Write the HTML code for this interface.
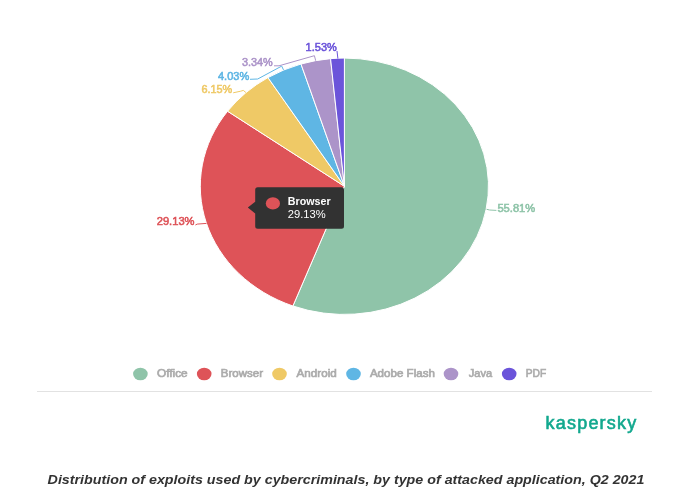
<!DOCTYPE html>
<html><head><meta charset="utf-8"><style>
html,body{margin:0;padding:0;background:#fff;width:674px;height:493px;overflow:hidden}
svg{display:block;will-change:transform;filter:blur(0.3px)}
text{font-family:"Liberation Sans",Arial,sans-serif}
</style></head><body>
<svg width="674" height="493" viewBox="0 0 674 493">
<g>
<path d="M344.4,186.25 L344.40,58.05 A144.1,128.2 0 1 1 292.91,305.99 Z" fill="#8fc4a9" stroke="#fff" stroke-width="1" stroke-linejoin="round"/>
<path d="M344.4,186.25 L292.91,305.99 A144.1,128.2 0 0 1 227.55,111.23 Z" fill="#de5358" stroke="#fff" stroke-width="1" stroke-linejoin="round"/>
<path d="M344.4,186.25 L227.55,111.23 A144.1,128.2 0 0 1 267.95,77.58 Z" fill="#efc966" stroke="#fff" stroke-width="1" stroke-linejoin="round"/>
<path d="M344.4,186.25 L267.95,77.58 A144.1,128.2 0 0 1 300.99,64.01 Z" fill="#5fb6e4" stroke="#fff" stroke-width="1" stroke-linejoin="round"/>
<path d="M344.4,186.25 L300.99,64.01 A144.1,128.2 0 0 1 330.57,58.64 Z" fill="#ac94c9" stroke="#fff" stroke-width="1" stroke-linejoin="round"/>
<path d="M344.4,186.25 L330.57,58.64 A144.1,128.2 0 0 1 344.40,58.05 Z" fill="#6b54da" stroke="#fff" stroke-width="1" stroke-linejoin="round"/>
</g>
<!-- connectors -->
<g fill="none" stroke-width="1">
<path d="M486.6,209.3 L489.6,210 L496.4,210.4" stroke="#8fc4a9"/>
<path d="M195.4,225 L197.2,224.1 L206.5,223.4" stroke="#de5358"/>
<path d="M233.2,92.8 L240.7,91.2 L243.3,90.4 L245.9,92.5" stroke="#efc966"/>
<path d="M250,79.3 L257.7,79 L281.7,66.1 L283.5,69.9" stroke="#5fb6e4"/>
<path d="M274,65.8 L279,65.8 L314.4,55.7 L315.7,60.7" stroke="#ac94c9"/>
<path d="M337,51 L337.9,58.5" stroke="#6b54da"/>
</g>
<!-- data labels -->
<g font-size="10.7" stroke-width="0.55">
<text x="497.4" y="211.6" fill="#8fc4a9" stroke="#8fc4a9" textLength="37.8" lengthAdjust="spacingAndGlyphs">55.81%</text>
<text x="156.7" y="224.8" fill="#de5358" stroke="#de5358" textLength="37.8" lengthAdjust="spacingAndGlyphs">29.13%</text>
<text x="201.4" y="93.2" fill="#efc966" stroke="#efc966" textLength="30.8" lengthAdjust="spacingAndGlyphs">6.15%</text>
<text x="218" y="79.5" fill="#5fb6e4" stroke="#5fb6e4" textLength="31.2" lengthAdjust="spacingAndGlyphs">4.03%</text>
<text x="241.9" y="65.8" fill="#ac94c9" stroke="#ac94c9" textLength="30.9" lengthAdjust="spacingAndGlyphs">3.34%</text>
<text x="305.6" y="50.7" fill="#6b54da" stroke="#6b54da" textLength="31.2" lengthAdjust="spacingAndGlyphs">1.53%</text>
</g>
<!-- tooltip -->
<g>
<path d="M257.7,187.3 H341.5 Q344,187.3 344,189.8 V226.2 Q344,228.7 341.5,228.7 H257.7 Q255.2,228.7 255.2,226.2 V213.5 L247.8,207.6 L255.2,201.7 V189.8 Q255.2,187.3 257.7,187.3 Z" fill="#323232"/>
<ellipse cx="272.9" cy="203.4" rx="7.1" ry="6.2" fill="#de5358"/>
<text x="287.8" y="205" fill="#fff" font-size="11" font-weight="bold" textLength="42.8" lengthAdjust="spacingAndGlyphs">Browser</text>
<text x="287.8" y="217.5" fill="#fff" font-size="11" textLength="37.9" lengthAdjust="spacingAndGlyphs">29.13%</text>
</g>
<!-- legend -->
<g font-size="10.1" fill="#ababab" stroke="#ababab" stroke-width="0.6">
<ellipse cx="140.4" cy="374" rx="7.3" ry="6.3" stroke="none" fill="#8fc4a9"/>
<text x="157" y="377.2" textLength="30.7" lengthAdjust="spacingAndGlyphs">Office</text>
<ellipse cx="204.2" cy="374" rx="7.3" ry="6.3" stroke="none" fill="#de5358"/>
<text x="220.8" y="377.2" textLength="42.2" lengthAdjust="spacingAndGlyphs">Browser</text>
<ellipse cx="279.5" cy="374" rx="7.3" ry="6.3" stroke="none" fill="#efc966"/>
<text x="296.6" y="377.2" textLength="40.1" lengthAdjust="spacingAndGlyphs">Android</text>
<ellipse cx="353.5" cy="374" rx="7.3" ry="6.3" stroke="none" fill="#5fb6e4"/>
<text x="369.9" y="377.2" textLength="65" lengthAdjust="spacingAndGlyphs">Adobe Flash</text>
<ellipse cx="451" cy="374" rx="7.3" ry="6.3" stroke="none" fill="#ac94c9"/>
<text x="468.8" y="377.2" textLength="23.3" lengthAdjust="spacingAndGlyphs">Java</text>
<ellipse cx="509.2" cy="374" rx="7.3" ry="6.3" stroke="none" fill="#6b54da"/>
<text x="525.8" y="377.2" textLength="20.4" lengthAdjust="spacingAndGlyphs">PDF</text>
</g>
<rect x="37" y="391" width="615" height="1" fill="#e2e2e2"/>
<text x="545.6" y="428.7" fill="#12a88e" stroke="#12a88e" stroke-width="0.6" font-size="18" textLength="90.6" lengthAdjust="spacing">kaspersky</text>
<text x="47.6" y="484" fill="#333" font-size="12.5" font-weight="bold" font-style="italic" textLength="596.8" lengthAdjust="spacingAndGlyphs">Distribution of exploits used by cybercriminals, by type of attacked application, Q2 2021</text>
</svg>
</body></html>
